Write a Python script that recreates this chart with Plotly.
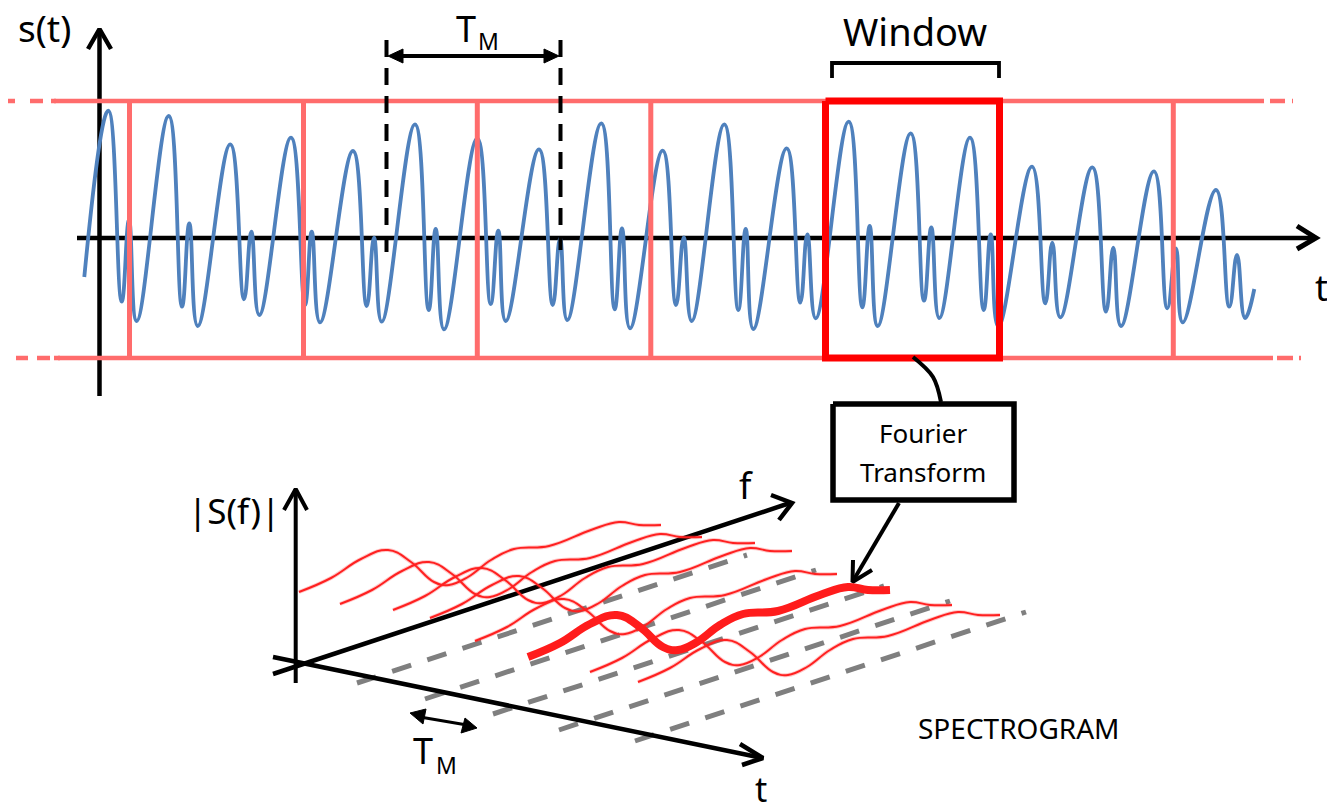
import plotly.graph_objects as go

# --- waveform s(t): turning points (pixel-like data units)
wave_x = [84.3,108.3,121.7,129,136.7,168.7,182,189.3,197.7,230.3,244,251.3,259.3,291,305,311.7,320,353,366.7,374,381.7,
          415,428.7,435.7,444,477.3,490.7,498.3,505.7,539,552.7,560,567.3,601.3,614.7,622,630,662.7,676,683.7,691.7,
          724.3,738.3,745.7,753.3,786.7,800.3,807.3,815.7,848.7,862.3,869.7,877.7,910.7,924,931.3,939.3,970,983.7,
          990.7,998.3,1032,1045.3,1052.3,1060.3,1092.3,1106,1113.3,1121,1154,1167.3,1176,1182.7,1216,1229.3,1237,1245,1254.3]
wave_y = [277,110.7,301.7,220,321,116,306.7,223.3,326,144.3,299.3,231.7,315,137.7,305,231.7,322.3,151,306,237.7,321.7,
          124.3,310,229,329.3,138.3,304,230.7,321,149.3,305,238.3,320,123.3,309.3,228.3,328.3,150.7,305,237.3,321,
          124.3,310,229,329,148.3,302.7,234.3,318.3,121.7,307.3,226,326,133.3,300.7,227.3,318,137.7,310,
          234.3,326.7,166.7,303.3,242.7,317.3,167.3,311.7,247.7,326,171.3,308.3,248.3,322.3,190,306.7,255,318,289]

# --- spectrogram slices: where each slice starts and its common profile
slice_x0 = [299,340,393,430,475,590,638]
slice_y0 = [592,604,610,618,641,672,682]
thick_x0 = [528]
thick_y0 = [657]
profile_f = [0,32,62,89,112,135,150,169,192,215,250,292,320,340,362]
profile_a = [0,-14,-33,-42,-30,-10,-7,-15,-32,-43,-46,-62,-70,-67,-67]

# --- window grid
cell_edges = [129.5,303.5,477.3,650.8,1173.3]
band_top = 101
band_bottom = 358
window_left, window_right = 825.5, 999.5
gray_x0 = [357,425,493,559,635]
gray_y0 = [683,699,714,730,741]
gray_x1 = [747,816,884,950,1026]
gray_y1 = [555,570,586,601,612]

PINK, RED, BLUE, GRAY, BLACK = "#FF6C6C", "#FF0000", "#4F81BD", "#7F7F7F", "#000000"
FONT = "Noto Sans"

fig = go.Figure()

def line(xs, ys, color=BLACK, width=4, dash=None, shape="linear", smoothing=1.0):
    fig.add_trace(go.Scatter(x=xs, y=ys, mode="lines", hoverinfo="skip",
                             line=dict(color=color, width=width, dash=dash, shape=shape, smoothing=smoothing)))

def poly(xs, ys, color=BLACK):
    fig.add_trace(go.Scatter(x=xs, y=ys, mode="lines", fill="toself", fillcolor=color, hoverinfo="skip",
                             line=dict(color=color, width=1)))

def text(s, x, y, size):
    fig.add_annotation(text=s, x=x, y=y, xref="x", yref="y", showarrow=False, xanchor="center", yanchor="middle",
                       font=dict(family=FONT, size=size, color="#000000"))

# top axes
line([99.5,99.5],[396,29],width=4.5)
line([88,99.5,111],[49,29,49], width=4.5)
line([77,1315],[238,238],width=4.5)
line([1297,1316,1297],[226,238,249], width=5)

# waveform
line(wave_x, wave_y, color=BLUE, width=3.8, shape="spline", smoothing=1.3)

# pink band
line([54,1257],[band_top,band_top],color=PINK,width=4.5)
line([54,1272],[band_bottom,band_bottom],color=PINK,width=4.5)
line([8,15,None,30,43,None,51,56,None,1257,1264,None,1270,1285,None,1292,1293],
     [101,101,None,101,101,None,101,101,None,101,101,None,101,101,None,101,101],color=PINK,width=4.5)
line([16,28,None,37,50,None,58,60,None,1272,1273,None,1277,1293,None,1299,1301],
     [358,358,None,358,358,None,358,358,None,358,358,None,358,358,None,358,358],color=PINK,width=4.5)
for e in cell_edges:
    line([e,e],[band_top,band_bottom],color=PINK,width=5)

# window
line([window_left,window_right,window_right,window_left,window_left],
     [band_top,band_top,band_bottom,band_bottom,band_top],color=RED,width=7)
line([832,832,999,999],[78,63,63,78],width=3.8)

# T_M on top
line([386.5,386.5],[40,252],dash="17px,11px",width=4)
line([560.5,560.5],[40,250],dash="17px,11px",width=4)
line([395,552],[56,56],width=4)
poly([388,403,403,388],[56,49,63,56])
poly([559,544,544,559],[56,49,63,56])

# Fourier box and connectors
line([913,933,941],[357,377,402],shape="spline",width=4)
line([833,1014,1014,833,833],[404,404,500,500,404],width=5.5)
line([899,853],[503,581],width=4)
line([853,852.5,872],[560,582,570],width=4)

# spectrogram grid
for x0,y0,x1,y1 in zip(gray_x0,gray_y0,gray_x1,gray_y1):
    line([x0,x1],[y0,y1],color=GRAY,dash="20px,17px",width=5)

# 3D axes
line([295.7,295.7],[683,489],width=4)
line([284,295.7,307],[510,489,510],width=4)
line([273,790],[674,503],width=4.5)
line([771,792,779],[495,503,520],width=4.5)
line([273,760],[657,757.5],width=4.5)
line([740,763,742],[744,758,765],width=4.5)

# spectrogram slices
for x0,y0 in zip(slice_x0,slice_y0):
    line([x0+f for f in profile_f],[y0+a for a in profile_a],color="rgba(255,40,40,0.25)",width=4,shape="spline",smoothing=1.2)
    line([x0+f for f in profile_f],[y0+a for a in profile_a],color="#FF2020",width=2,shape="spline",smoothing=1.2)
for x0,y0 in zip(thick_x0,thick_y0):
    line([x0+f for f in profile_f],[y0+a for a in profile_a],color="#FF1C1C",width=8,shape="spline",smoothing=1.2)

# lower T_M arrow
line([420,467],[717,725],width=2.8)
poly([410,426,423,410],[713,709,724,713])
poly([477,461,465,477],[728,733,718,728])

text("s(t)",44,27,37)
text("T",465.5,28,36)
text("M",488,41,23)
text("Window",915,31,38)
text("t",1321,287,36)
text("Fourier",923,433,26)
text("Transform",923,472,26)
text("f",746,485,36)
text("|S(f)|",234,510,35)
text("T",423,750,36)
text("M",446,765,23)
text("SPECTROGRAM",1019,728,28)
text("t",761,789,34)

fig.update_layout(width=1327,height=811,margin=dict(l=0,r=0,t=0,b=0),showlegend=False,hovermode=False,
                  plot_bgcolor="white",paper_bgcolor="white",
                  xaxis=dict(range=[0,1327],visible=False,fixedrange=True),
                  yaxis=dict(range=[811,0],visible=False,fixedrange=True))
fig.write_html("out.html",post_script="document.body.style.margin='0';",config={"displayModeBar":False})
